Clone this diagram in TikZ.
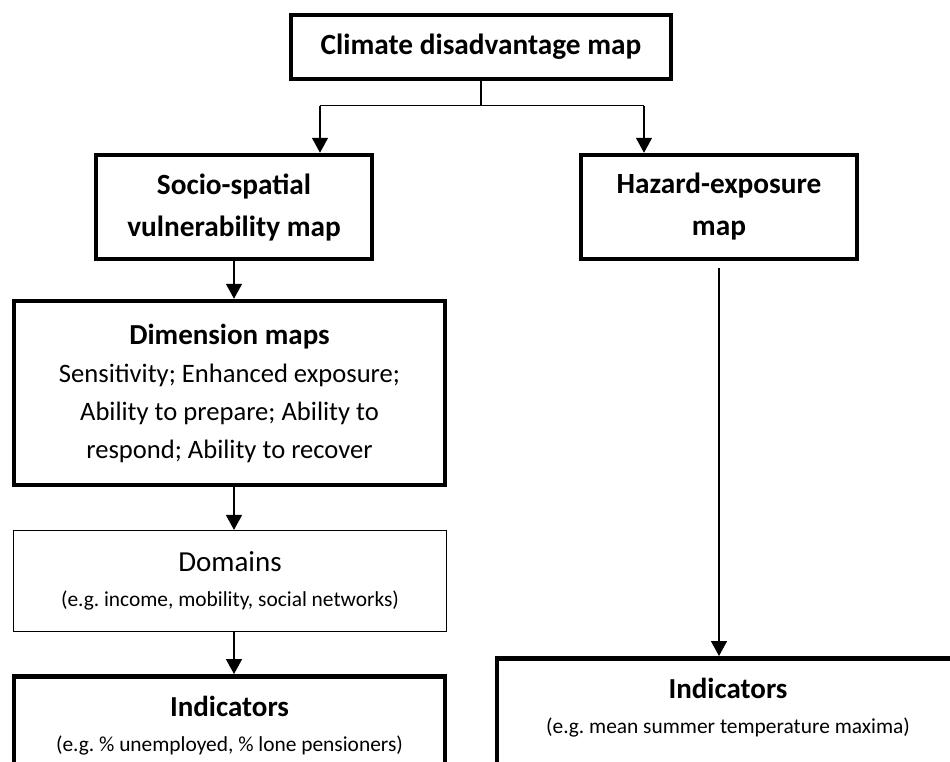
\documentclass[tikz,border=0pt]{standalone}
\usepackage{fontspec}
\setmainfont{Carlito}
\usetikzlibrary{arrows.meta,positioning}

\begin{document}
\begin{tikzpicture}[x=1pt, y=-1pt,
    mapbox/.style={rectangle, draw, line width=4.5pt, align=center, inner sep=0pt},
    thinbox/.style={rectangle, draw, line width=1.2pt, align=center, inner sep=0pt},
    title/.style={font=\bfseries\fontsize{29.3}{42}\selectfont},
    body/.style={font=\fontsize{26.6}{38}\selectfont},
    note/.style={font=\fontsize{21.4}{35}\selectfont},
    arr/.style={-{Triangle[width=16pt,length=15pt]}, line width=1.5pt},
    link/.style={line width=1.5pt}
]

% PAGINA
\useasboundingbox (0,0) rectangle (950,761);
\clip (0,0) rectangle (950,761);

% MAPPA PRINCIPALE
\node[mapbox, title, minimum width=380pt, minimum height=64pt] (clim) at (481,47) {Climate disadvantage map};

% DUE RAMI
\node[mapbox, title, minimum width=276pt, minimum height=104pt] (socio) at (234,207) {Socio-spatial\\vulnerability map};
\node[mapbox, title, minimum width=276pt, minimum height=104pt] (hazard) at (719,207) {Hazard-exposure\\map};

% RAMO SINISTRO
\node[mapbox, body, minimum width=431pt, minimum height=184pt] (dim) at (229.5,393)
    {{\bfseries\fontsize{29}{38}\selectfont Dimension maps}\\Sensitivity; Enhanced exposure;\\Ability to prepare; Ability to\\respond; Ability to recover};
\node[thinbox, note, minimum width=433pt, minimum height=101pt] (dom) at (230,581)
    {{\fontsize{29}{36}\selectfont Domains}\\(e.g.\ income, mobility, social networks)};
\node[mapbox, note, minimum width=431pt, inner ysep=20pt, text depth=90pt, anchor=north] (indL) at (229.5,674)
    {{\bfseries\fontsize{29}{35}\selectfont Indicators}\\(e.g.\ \% unemployed, \% lone pensioners)};

% RAMO DESTRO
\node[mapbox, note, minimum width=462pt, inner ysep=20pt, text depth=90pt, anchor=north] (indR) at (728,656)
    {{\bfseries\fontsize{29}{35}\selectfont Indicators}\\(e.g.\ mean summer temperature maxima)};

% CONNESSIONI
\coordinate (jl) at (320,105.5);
\coordinate (jr) at (644,105.5);
\draw[link] (clim.south) -- (clim.south |- jl);
\draw[link] (jl) -- (jr);
\draw[arr] (jl) -- (jl |- socio.north);
\draw[arr] (jr) -- (jr |- hazard.north);
\draw[arr] (socio.south) -- (socio.south |- dim.north);
\draw[arr] (dim.south -| socio.south) -- (socio.south |- dom.north);
\draw[arr] (dom.south -| socio.south) -- (socio.south |- indL.north);
\draw[arr, shorten <=7pt] (hazard.south) -- (hazard.south |- indR.north);

\end{tikzpicture}
\end{document}
